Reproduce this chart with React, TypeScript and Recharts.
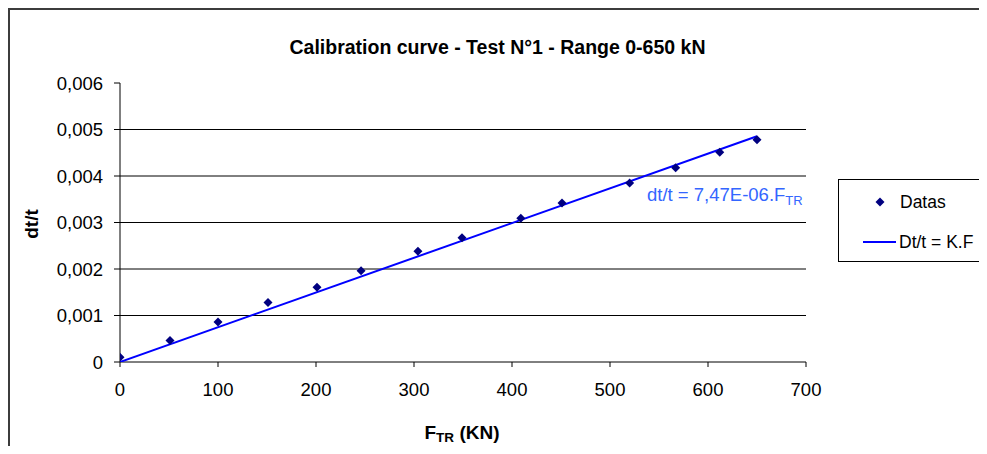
import React from 'react';
import {
  ScatterChart,
  Scatter,
  XAxis,
  YAxis,
  ReferenceLine,
  Legend,
  Customized,
} from 'recharts';

// ---- data ----
const forceKN = [0, 51, 100, 151, 201, 246, 304, 349, 409, 451, 520, 567, 612, 650];
const dtOverT = [0.0001, 0.00046, 0.00086, 0.00128, 0.00161, 0.00196, 0.00238, 0.00267, 0.00309, 0.00342, 0.00385, 0.00418, 0.00451, 0.00478];
const fitX = [0, 650];
const fitY = [0, 0.004856];
const xTicks = [0, 100, 200, 300, 400, 500, 600, 700];
const yTicks = [0, 0.001, 0.002, 0.003, 0.004, 0.005, 0.006];
const gridValues = [0.001, 0.002, 0.003, 0.004, 0.005];
const seriesNames = ['Datas', 'Dt/t = K.F'];
const titleText = 'Calibration curve - Test N°1 - Range 0-650 kN';

const points = forceKN.map((x, i) => ({ x, y: dtOverT[i] }));
const fitLine = fitX.map((x, i) => ({ x, y: fitY[i] }));

const FONT = '"Liberation Sans", Arial, sans-serif';

const Diamond = (props: any) => {
  const { cx, cy } = props;
  if (cx == null || cy == null) return <g />;
  const r = 4.5;
  return (
    <path
      d={`M${cx},${cy - r} L${cx + r},${cy} L${cx},${cy + r} L${cx - r},${cy} Z`}
      fill="#000080"
    />
  );
};

const NoShape = () => <g />;

const fmtY = (v: number) => (v === 0 ? '0' : v.toFixed(3).replace('.', ','));

const Texts = () => (
  <g fontFamily={FONT}>
    <path d="M1,446 L1,1 L979,1" fill="none" stroke="#3c3c3c" strokeWidth={2} />
    <text x={489.5} y={46} textAnchor="middle" fontWeight="bold" fontSize={19.5} fill="#000">
      {titleText}
    </text>
    <text
      x={29.5}
      y={216}
      textAnchor="middle"
      fontWeight="bold"
      fontSize={19}
      fill="#000"
      transform="rotate(-90, 29.5, 216)"
    >
      dt/t
    </text>
    <text x={454} y={431} textAnchor="middle" fontWeight="bold" fontSize={19} fill="#000">
      F<tspan fontSize={13.5} dy={3}>TR</tspan>
      <tspan dy={-3}> (KN)</tspan>
    </text>
    <text x={639} y={193} textAnchor="start" fontSize={18.5} fill="#3366FF">
      dt/t = 7,47E-06.F<tspan fontSize={13} dy={4}>TR</tspan>
    </text>
  </g>
);

const LegendBox = () => (
  <div
    style={{
      width: 148,
      height: 83,
      boxSizing: 'border-box',
      border: '1px solid #000',
      background: '#fff',
    }}
  >
    <svg width={146} height={81} style={{ display: 'block' }}>
      <g fontFamily={FONT} fontSize={17.5} fill="#000">
        <path d="M41,17.5 L45.5,22 L41,26.5 L36.5,22 Z" fill="#000080" />
        <text x={61} y={28}>{seriesNames[0]}</text>
        <line x1={24} y1={62} x2={57} y2={62} stroke="#0000FF" strokeWidth={2} />
        <text x={60} y={68}>{seriesNames[1]}</text>
      </g>
    </svg>
  </div>
);

export default function App() {
  return (
    <div
      style={{
        width: 979,
        height: 446,
        marginBottom: -8,
        position: 'relative',
        background: '#fff',
      }}
    >
      <style>{'html,body{overflow:hidden;}'}</style>
      <ScatterChart
        width={979}
        height={446}
        margin={{ top: 75, right: 181, bottom: 52, left: 0 }}
      >
        <XAxis
          type="number"
          dataKey="x"
          domain={[0, 700]}
          ticks={xTicks}
          interval={0}
          height={40}
          tickSize={5}
          tickMargin={16}
          axisLine={{ stroke: '#000' }}
          tickLine={{ stroke: '#000' }}
          tick={{ fill: '#000', fontSize: 18.5, fontFamily: FONT }}
          allowDataOverflow
        />
        <YAxis
          type="number"
          dataKey="y"
          domain={[0, 0.006]}
          ticks={yTicks}
          interval={0}
          width={112}
          tickSize={6}
          tickMargin={11}
          tickFormatter={fmtY}
          axisLine={{ stroke: '#000' }}
          tickLine={{ stroke: '#000' }}
          tick={{ fill: '#000', fontSize: 18.5, fontFamily: FONT }}
          allowDataOverflow
        />
        {gridValues.map((v) => (
          <ReferenceLine key={v} y={v} stroke="#000" strokeWidth={1} />
        ))}
        <Scatter
          name={seriesNames[1]}
          data={fitLine}
          line={{ stroke: '#0000FF', strokeWidth: 2 }}
          shape={NoShape}
          isAnimationActive={false}
        />
        <Scatter
          name={seriesNames[0]}
          data={points}
          shape={Diamond}
          isAnimationActive={false}
        />
        <Legend
          layout="vertical"
          align="center"
          verticalAlign="middle"
          content={() => <LegendBox />}
          wrapperStyle={{ position: 'absolute', left: 830, top: 171, width: 148, height: 83 }}
        />
        <Customized component={<Texts />} />
      </ScatterChart>
    </div>
  );
}
